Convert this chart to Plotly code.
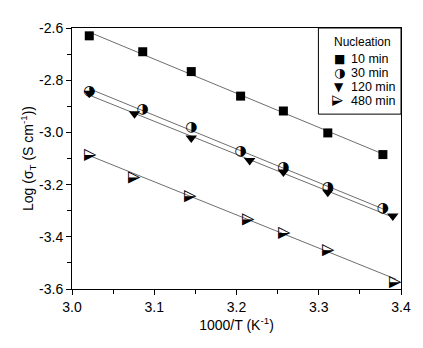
import numpy as np
import plotly.graph_objects as go

# Data
x_10 = [3.021, 3.086, 3.145, 3.205, 3.257, 3.311, 3.378]
y_10 = [-2.630, -2.691, -2.767, -2.861, -2.918, -3.002, -3.085]

x_30 = [3.021, 3.086, 3.145, 3.205, 3.257, 3.311, 3.378]
y_30 = [-2.842, -2.911, -2.983, -3.073, -3.133, -3.213, -3.293]

x_120 = [3.021, 3.076, 3.145, 3.216, 3.257, 3.311, 3.390]
y_120 = [-2.850, -2.929, -3.021, -3.108, -3.152, -3.229, -3.320]

x_480 = [3.023, 3.078, 3.146, 3.216, 3.259, 3.313, 3.394]
y_480 = [-3.089, -3.172, -3.244, -3.335, -3.385, -3.452, -3.573]

series_names = ["10 min", "30 min", "120 min", "480 min"]
legend_title = "Nucleation"

x_ticks = [3.0, 3.1, 3.2, 3.3, 3.4]
x_ticktext = ["3.0", "3.1", "3.2", "3.3", "3.4"]
y_ticks = [-2.6, -2.8, -3.0, -3.2, -3.4, -3.6]
y_ticktext = ["-2.6", "-2.8", "-3.0", "-3.2", "-3.4", "-3.6"]

FONT = "Liberation Sans, Arial, sans-serif"
GLYPH_FONT = "DejaVu Sans, sans-serif"
LINE_COLOR = "#6e6e6e"

fig = go.Figure()

all_series = [(x_10, y_10), (x_30, y_30), (x_120, y_120), (x_480, y_480)]

# Linear fit lines
for xs, ys in all_series:
    xa = np.array(xs)
    k, b = np.polyfit(xa, np.array(ys), 1)
    xl = np.array([xa.min(), xa.max()])
    fig.add_trace(go.Scatter(x=xl, y=k * xl + b, mode="lines",
                             line=dict(color=LINE_COLOR, width=1),
                             showlegend=False, hoverinfo="skip"))

# 10 min: filled squares
fig.add_trace(go.Scatter(x=x_10, y=y_10, mode="markers", name=series_names[0],
                         showlegend=False,
                         marker=dict(symbol="square", size=9, color="black",
                                     line=dict(width=0))))
# 30 min: circle with right half black
fig.add_trace(go.Scatter(x=x_30, y=y_30, mode="text", name=series_names[1],
                         showlegend=False, text=["◑"] * len(x_30),
                         textposition="middle center",
                         textfont=dict(family=GLYPH_FONT, size=14, color="black")))
# 120 min: filled down triangles
fig.add_trace(go.Scatter(x=x_120, y=y_120, mode="markers", name=series_names[2],
                         showlegend=False,
                         marker=dict(symbol="triangle-down", size=10, color="black",
                                     line=dict(width=0))))
# 480 min: right triangle, lower half black (rotated half-black glyph)
for xv, yv in zip(x_480, y_480):
    fig.add_annotation(x=xv, y=yv, xref="x", yref="y", text="◮", textangle=90,
                       showarrow=False, xanchor="center", yanchor="middle", borderpad=0,
                       font=dict(family=GLYPH_FONT, size=16, color="black"))

# ---- manual legend (box + glyphs + labels) ----
fig.add_shape(type="rect", xref="paper", yref="paper", x0=0.749, x1=1.0, y0=0.670, y1=1.0,
              line=dict(color="black", width=1), fillcolor="white", layer="above")
fig.add_annotation(xref="paper", yref="paper", x=0.882, y=0.945, text=legend_title,
                   showarrow=False, xanchor="center", yanchor="middle", borderpad=0,
                   font=dict(family=FONT, size=12, color="black"))
legend_rows_y = [0.8807, 0.8277, 0.7746, 0.7216]
legend_glyphs = ["■", "◑", "▼", "◮"]
legend_sizes = [12, 13, 12, 14]
legend_angles = [0, 0, 0, 90]
for name, gy, glyph, gs, ang in zip(series_names, legend_rows_y, legend_glyphs,
                                    legend_sizes, legend_angles):
    fig.add_annotation(xref="paper", yref="paper", x=0.8127, y=gy, text=glyph,
                       textangle=ang, showarrow=False, xanchor="center", yanchor="middle",
                       borderpad=0, font=dict(family=GLYPH_FONT, size=gs, color="black"))
    fig.add_annotation(xref="paper", yref="paper", x=0.846, y=gy, text=name,
                       showarrow=False, xanchor="left", yanchor="middle", borderpad=0,
                       font=dict(family=FONT, size=12.5, color="black"))

axis_common = dict(
    showgrid=False, zeroline=False, showline=True, linecolor="black",
    linewidth=1, mirror=True, ticks="outside", ticklen=5, tickwidth=1,
    tickcolor="black", tickfont=dict(family=FONT, size=14, color="black"),
)

fig.update_xaxes(range=[3.0, 3.4], tickvals=x_ticks, ticktext=x_ticktext,
                 minor=dict(dtick=0.05, ticks="outside", ticklen=4, tickcolor="black"),
                 title=dict(text="1000/T (K<sup>-1</sup>)",
                            font=dict(family=FONT, size=14, color="black"), standoff=6),
                 **axis_common)
fig.update_yaxes(range=[-3.6, -2.6], tickvals=y_ticks, ticktext=y_ticktext,
                 minor=dict(dtick=0.1, ticks="outside", ticklen=4, tickcolor="black"),
                 title=dict(text="Log (σ<sub>T</sub> (S cm<sup>-1</sup>))",
                            font=dict(family=FONT, size=14, color="black"), standoff=2),
                 **axis_common)

# page body has an 8px default margin, so the figure is 8px smaller and margins shifted
fig.update_layout(
    width=415, height=340,
    margin=dict(l=64, r=20, t=17, b=59),
    paper_bgcolor="white", plot_bgcolor="white",
    font=dict(family=FONT, size=13, color="black"),
    showlegend=False,
)

fig.write_html("out.html")
